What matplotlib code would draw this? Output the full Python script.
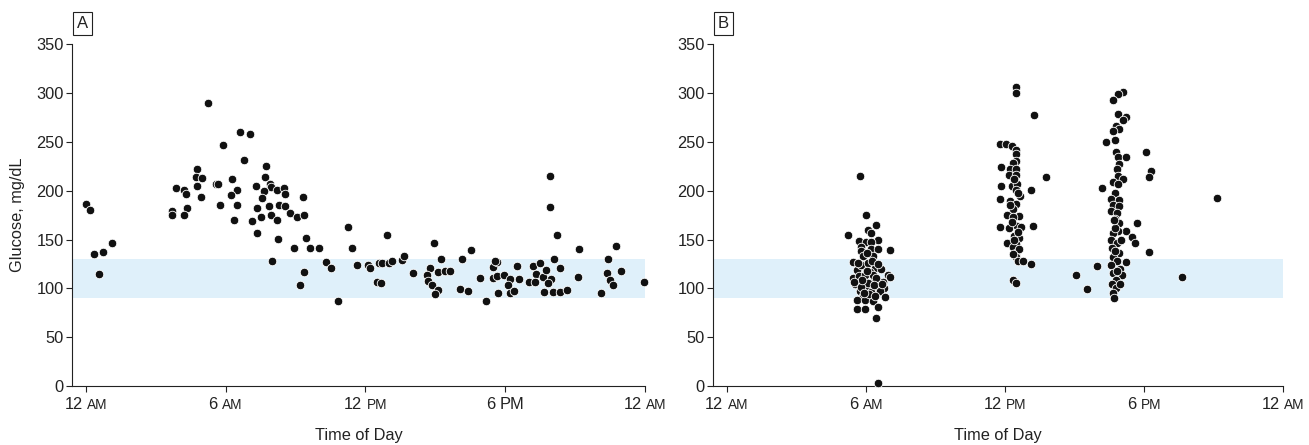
import matplotlib
matplotlib.use("Agg")
import matplotlib.pyplot as plt
import numpy as np
from matplotlib.offsetbox import TextArea, HPacker, AnnotationBbox

plt.rcParams['font.family'] = ['Liberation Sans', 'DejaVu Sans']

INK = '#222222'
BAND = '#dff0fa'
FS = 11.8

# target range shading, mg/dL
target_low, target_high = 90, 130

tick_hours = [0, 6, 12, 18, 24]
tick_nums = ['12', '6', '12', '6', '12']
tick_suffix = ['AM', 'AM', 'PM', 'PM', 'AM']

# panel A: (hour of day, glucose mg/dL)
a_night = [(0.00, 186), (0.17, 180), (1.10, 146), (0.72, 137), (0.34, 135), (0.57, 115)]
a_morning = [
    (5.24, 290), (6.63, 260), (7.03, 258), (5.90, 247), (6.80, 231), (7.74, 225), (4.75, 222),
    (4.71, 214), (4.99, 213), (7.69, 214), (6.27, 212), (5.57, 207), (5.68, 207), (7.88, 207),
    (7.95, 204), (3.87, 203), (4.77, 205), (4.22, 201), (4.28, 197), (6.50, 201), (7.30, 205),
    (8.20, 201), (8.49, 203), (8.56, 197), (7.63, 200), (6.24, 196), (7.54, 193), (4.94, 194),
    (9.32, 194), (5.75, 185), (6.48, 185), (4.34, 182), (3.71, 179), (3.71, 175), (4.19, 175),
    (7.33, 182), (7.87, 184), (8.27, 185), (8.56, 184), (8.75, 177), (9.06, 173), (9.37, 175),
    (6.35, 170), (7.13, 169), (7.50, 173), (7.94, 175), (8.20, 170), (7.36, 157), (8.26, 151),
    (9.46, 152), (8.93, 141), (9.63, 141), (10.02, 141), (7.97, 128), (10.29, 127), (10.50, 121),
    (9.36, 117), (9.19, 103),
]
a_afternoon = [
    (10.80, 87), (11.24, 163), (11.42, 141), (11.65, 124), (12.11, 124), (12.19, 121), (12.48, 107),
    (12.65, 105), (12.57, 126), (12.73, 126), (13.00, 126), (12.93, 155), (13.12, 128), (13.55, 129),
    (13.67, 133), (14.04, 116), (14.95, 146), (15.23, 130), (14.78, 121), (14.66, 114), (15.10, 117),
    (15.41, 118), (15.63, 118), (14.70, 108), (14.86, 103), (15.13, 98), (15.00, 94), (16.16, 130),
    (16.53, 139), (16.90, 111), (16.07, 99), (16.41, 97), (17.19, 87),
]
a_evening = [
    (17.49, 122), (17.63, 127), (17.55, 128), (17.47, 111), (17.63, 113), (17.93, 114), (18.20, 110),
    (18.13, 103), (18.19, 95), (18.36, 97), (17.70, 95), (18.50, 123), (18.61, 110), (19.20, 123),
    (19.32, 115), (19.49, 126), (19.02, 107), (19.28, 107), (19.61, 112), (19.74, 119), (19.95, 110),
    (19.85, 105), (19.65, 96), (20.06, 96), (20.35, 96), (20.64, 98), (20.08, 130), (20.34, 121),
    (19.94, 215), (19.90, 183), (20.21, 155), (21.18, 140), (21.12, 112), (22.13, 95), (22.41, 130),
    (22.77, 143), (22.38, 116), (22.50, 109), (22.64, 103), (22.96, 118), (23.96, 107),
]

# panel B
b_morning = [
    (5.74, 215), (6.00, 175), (6.44, 165), (5.24, 155), (6.09, 160), (6.23, 157), (6.50, 150),
    (5.71, 149), (6.00, 147), (6.20, 147), (5.77, 142), (6.23, 140), (6.50, 140), (7.06, 139),
    (5.77, 138), (5.89, 133), (6.29, 133), (5.44, 127), (6.00, 121), (6.39, 121), (5.63, 119),
    (6.17, 117), (6.63, 120), (6.95, 114), (7.06, 112), (5.43, 111), (5.71, 113), (5.89, 108),
    (6.35, 108), (6.72, 107), (5.54, 104), (6.09, 102), (6.49, 102), (6.79, 100), (5.74, 97),
    (6.23, 96), (6.61, 97), (6.82, 91), (5.89, 92), (5.60, 88), (5.97, 88), (6.32, 87),
    (5.60, 79), (5.97, 79), (6.53, 81), (6.42, 70), (6.53, 3),
    (5.80, 124), (6.10, 126), (5.95, 114), (6.30, 114), (6.10, 106), (5.80, 101), (6.45, 111),
    (6.15, 94), (5.85, 109), (6.05, 136), (6.25, 128), (6.50, 125), (5.65, 126), (6.05, 118),
    (6.35, 103), (5.90, 95), (5.50, 107), (6.40, 92), (6.70, 104),
]
b_noon = [
    (12.47, 306), (12.47, 300), (13.25, 278), (11.78, 248), (12.04, 248), (12.29, 246), (12.47, 242),
    (12.47, 238), (12.47, 230), (12.33, 228), (11.83, 224), (12.21, 222), (12.47, 222), (12.18, 216),
    (12.47, 216), (13.77, 214), (11.83, 205), (12.29, 205), (12.50, 207), (12.47, 201), (13.11, 201),
    (12.65, 195), (11.78, 192), (12.21, 190), (12.47, 186), (12.33, 181), (12.10, 175), (12.62, 174),
    (12.33, 173), (13.19, 164), (11.78, 163), (12.18, 162), (12.50, 164), (12.68, 163), (12.39, 154),
    (12.62, 152), (12.10, 146), (12.47, 145), (12.33, 142), (12.47, 136), (12.47, 132), (12.57, 128),
    (12.79, 128), (13.12, 125), (12.36, 109), (12.47, 105),
    (12.40, 212), (12.55, 198), (12.30, 168), (12.55, 158), (12.40, 150), (12.60, 140), (12.35, 135),
    (12.20, 185),
]
b_evening = [
    (17.10, 301), (16.86, 299), (16.65, 293), (16.89, 279), (17.22, 276), (17.08, 272), (16.80, 266),
    (16.91, 263), (16.67, 261), (16.74, 252), (16.36, 250), (18.08, 240), (16.80, 240), (16.86, 235),
    (17.22, 235), (16.93, 227), (18.29, 220), (18.23, 214), (16.82, 222), (16.86, 215), (17.08, 212),
    (16.65, 209), (16.89, 207), (16.18, 203), (16.74, 198), (16.56, 192), (16.93, 191), (16.65, 185),
    (16.93, 184), (16.56, 179), (16.82, 177), (16.76, 171), (17.71, 167), (16.93, 167), (17.22, 159),
    (16.89, 159), (16.67, 157), (17.47, 153), (16.58, 150), (16.82, 146), (17.62, 146), (16.61, 141),
    (16.92, 136), (16.67, 132), (18.21, 137), (17.22, 127), (16.82, 128), (16.56, 124), (15.96, 123),
    (16.97, 120), (16.67, 116), (17.03, 114), (19.62, 112), (16.80, 109), (16.61, 104), (15.55, 99),
    (16.80, 100), (16.67, 95), (16.70, 90), (15.05, 114), (21.15, 193),
    (16.75, 162), (17.00, 150), (16.70, 170), (16.85, 118), (16.75, 138), (16.95, 104),
]


def time_label(ax, x, num, suffix, big=False):
    num_txt = TextArea(num, textprops=dict(fontsize=FS, color=INK))
    suf_txt = TextArea(suffix, textprops=dict(fontsize=FS if big else 9.8, color=INK))
    box = HPacker(children=[num_txt, suf_txt], align='baseline', pad=0, sep=3.3)
    ab = AnnotationBbox(box, (x, 0), xycoords=('data', 'axes fraction'),
                        xybox=(0, -8), boxcoords='offset points',
                        box_alignment=(0.5, 1), frameon=False, annotation_clip=False)
    ax.add_artist(ab)


def setup_panel(ax, letter, big_6pm=False):
    ax.axhspan(target_low, target_high, color=BAND, lw=0, zorder=0)
    ax.set_xlim(-0.6, 24)
    ax.set_ylim(0, 350)
    ax.set_yticks(range(0, 351, 50))
    ax.set_xticks(tick_hours)
    ax.set_xticklabels([''] * len(tick_hours))
    for h, n, s in zip(tick_hours, tick_nums, tick_suffix):
        time_label(ax, h, n, s, big=(big_6pm and h == 18))
    for side in ['top', 'right']:
        ax.spines[side].set_visible(False)
    for side in ['left', 'bottom']:
        ax.spines[side].set_color(INK)
        ax.spines[side].set_linewidth(0.8)
    ax.tick_params(axis='both', colors=INK, width=0.8, length=4, labelsize=FS)
    ax.tick_params(axis='y', pad=2)
    ax.set_xlabel('Time of Day', fontsize=FS, color=INK)
    ax.xaxis.set_label_coords(0.5, -0.122)
    ax.annotate(letter, xy=(0, 1), xycoords='axes fraction', xytext=(3.5, 9.5),
                textcoords='offset points', ha='left', va='bottom', fontsize=12, color=INK,
                bbox=dict(boxstyle='square,pad=0.25', fc='white', ec=INK, lw=0.8))


def dots(ax, groups):
    pts = np.array([p for g in groups for p in g])
    ax.scatter(pts[:, 0], pts[:, 1], s=38, c='#111111', edgecolors='white',
               linewidths=0.6, zorder=3, clip_on=False)


fig = plt.figure(figsize=(13.09, 4.45), dpi=100)
axA = fig.add_axes([72 / 1309, 59 / 445, 573 / 1309, 341.7 / 445])
axB = fig.add_axes([713 / 1309, 59 / 445, 570 / 1309, 341.7 / 445])

setup_panel(axA, 'A', big_6pm=True)
setup_panel(axB, 'B')
dots(axA, [a_night, a_morning, a_afternoon, a_evening])
dots(axB, [b_morning, b_noon, b_evening])

axA.set_ylabel('Glucose, mg/dL', fontsize=FS, color=INK)
axA.yaxis.set_label_coords(-0.082, 0.5)

fig.savefig('out.png', dpi=100)
